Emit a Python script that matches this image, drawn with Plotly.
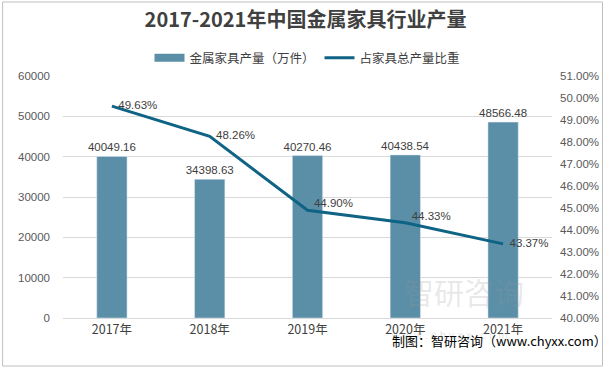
import plotly.graph_objects as go

years = ["2017年", "2018年", "2019年", "2020年", "2021年"]
output = [40049.16, 34398.63, 40270.46, 40438.54, 48566.48]
share = [49.63, 48.26, 44.90, 44.33, 43.37]
left_ticks = [0, 10000, 20000, 30000, 40000, 50000, 60000]
right_ticks = [40, 41, 42, 43, 44, 45, 46, 47, 48, 49, 50, 51]
share_pos = ["middle right", "middle right", "top right", "top right", "middle right"]

W, H = 611, 369
ML, MR, MT, MB = 63, 54, 76, 51
PW, PH = W - ML - MR, H - MT - MB

def px(x):
    return (x - ML) / PW

def py(y):
    return 1 - (y - MT) / PH

cjk = "Microsoft YaHei, Noto Sans CJK SC, sans-serif"
num = "Liberation Sans, Arial, Noto Sans CJK SC, sans-serif"
bar_color = "#5b8fa8"
line_color = "#0f6384"

fig = go.Figure()
fig.add_trace(go.Bar(
    x=years, y=output, name="金属家具产量（万件）", showlegend=False,
    marker_color=bar_color, width=0.31,
    text=[f"{v:.2f}" for v in output], textposition="outside", constraintext="none",
    textfont=dict(size=11.5, color="#404040", family=num), cliponaxis=False,
))
# legend entry for bars (wide rectangle swatch)
fig.add_trace(go.Scatter(
    x=[None], y=[None], name="金属家具产量（万件）", mode="lines",
    line=dict(color=bar_color, width=8), showlegend=True,
))
fig.add_trace(go.Scatter(
    x=years, y=share, name="占家具总产量比重", yaxis="y2",
    mode="lines+text", line=dict(color=line_color, width=3),
    text=[f"  {v:.2f}%" for v in share], textposition=share_pos,
    textfont=dict(size=11.5, color="#404040", family=num), cliponaxis=False,
))

fig.update_layout(
    width=W, height=H, margin=dict(l=ML, r=MR, t=MT, b=MB),
    paper_bgcolor="white", plot_bgcolor="white",
    font=dict(family=cjk, color="#595959", size=11),
    title=dict(text="<b>2017-2021年中国金属家具行业产量</b>", x=0.5, xanchor="center",
               y=1 - 20 / H, yanchor="middle",
               font=dict(size=20, color="#404040", family=cjk)),
    legend=dict(orientation="h", x=0.5, xanchor="center", y=py(58), yanchor="middle",
                font=dict(size=12.5, color="#404040", family=cjk), traceorder="normal"),
    bargap=0.69,
    showlegend=True,
    xaxis=dict(showgrid=False, showline=True, linecolor="#d9d9d9", ticks="",
               tickfont=dict(size=12.5, color="#404040", family=cjk)),
    yaxis=dict(range=[0, 60000], tickvals=left_ticks, ticktext=[str(v) for v in left_ticks],
               showgrid=True, gridcolor="#d9d9d9",
               zeroline=False, tickfont=dict(size=11.5, color="#595959", family=num),
               ticklabelstandoff=12),
    yaxis2=dict(range=[40, 51], tickvals=right_ticks, ticktext=[f"{v:.2f}%" for v in right_ticks],
                overlaying="y", side="right", showgrid=False, zeroline=False,
                tickfont=dict(size=11.5, color="#595959", family=num), ticklabelstandoff=7),
)

# outer border
fig.add_shape(type="rect", xref="paper", yref="paper",
              x0=px(2), x1=px(608), y0=py(366), y1=py(2),
              line=dict(color="#bfbfbf", width=1), fillcolor="rgba(0,0,0,0)", layer="below")

# watermark
fig.add_annotation(xref="paper", yref="paper", x=px(531), y=py(315), text="智研咨询",
                   showarrow=False, font=dict(size=30, color="rgba(150,150,150,0.22)", family=cjk))
fig.add_annotation(xref="paper", yref="paper", x=px(515), y=py(343), text="w w w . c h y x x . c o m",
                   showarrow=False, font=dict(size=11, color="rgba(150,150,150,0.28)", family=num))
# source
fig.add_annotation(xref="paper", yref="paper", x=px(604), y=py(352), xanchor="right",
                   text="制图：智研咨询（www.chyxx.com）", showarrow=False, xshift=10,
                   font=dict(size=13, color="#000000", family=cjk))

fig.write_html("out.html", config={"displayModeBar": False},
               post_script="document.body.style.margin='0';document.body.style.overflow='hidden';")
